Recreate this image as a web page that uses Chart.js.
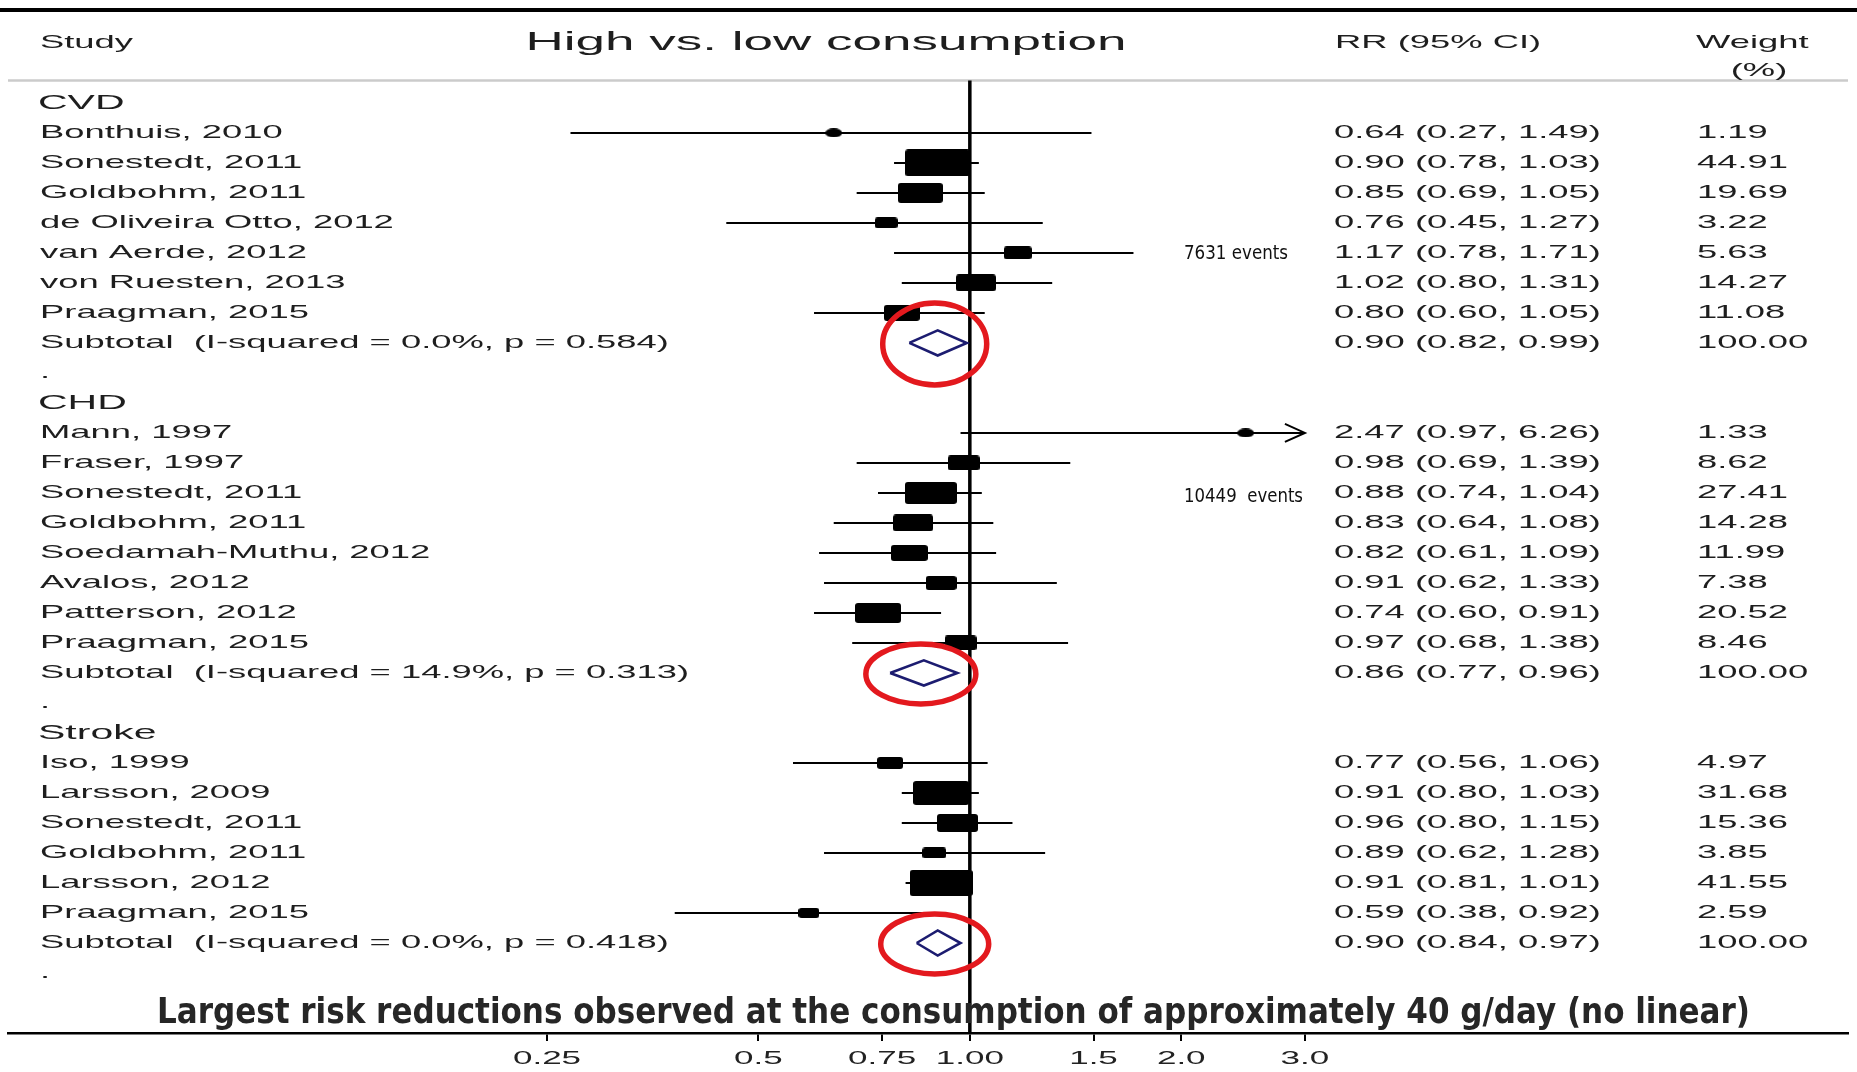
<!DOCTYPE html>
<html>
<head>
<meta charset="utf-8">
<title>High vs. low consumption</title>
<script src="https://cdn.jsdelivr.net/npm/chart.js@4.4.1/dist/chart.umd.min.js"></script>
<style>
  html, body { margin: 0; padding: 0; background: #fff; }
  #wrap { width: 1857px; height: 1072px; }
</style>
</head>
<body>
<div id="wrap"><canvas id="forest" width="1857" height="1072"></canvas></div>
<script>
"use strict";

// RR, 95% CI and weight (%) per study
const cvdStudies = ["Bonthuis, 2010", "Sonestedt, 2011", "Goldbohm, 2011", "de Oliveira Otto, 2012", "van Aerde, 2012", "von Ruesten, 2013", "Praagman, 2015"];
const cvdRR = [0.64, 0.90, 0.85, 0.76, 1.17, 1.02, 0.80];
const cvdLow = [0.27, 0.78, 0.69, 0.45, 0.78, 0.80, 0.60];
const cvdHigh = [1.49, 1.03, 1.05, 1.27, 1.71, 1.31, 1.05];
const cvdWeight = [1.19, 44.91, 19.69, 3.22, 5.63, 14.27, 11.08];

const chdStudies = ["Mann, 1997", "Fraser, 1997", "Sonestedt, 2011", "Goldbohm, 2011", "Soedamah-Muthu, 2012", "Avalos, 2012", "Patterson, 2012", "Praagman, 2015"];
const chdRR = [2.47, 0.98, 0.88, 0.83, 0.82, 0.91, 0.74, 0.97];
const chdLow = [0.97, 0.69, 0.74, 0.64, 0.61, 0.62, 0.60, 0.68];
const chdHigh = [6.26, 1.39, 1.04, 1.08, 1.09, 1.33, 0.91, 1.38];
const chdWeight = [1.33, 8.62, 27.41, 14.28, 11.99, 7.38, 20.52, 8.46];

const strokeStudies = ["Iso, 1999", "Larsson, 2009", "Sonestedt, 2011", "Goldbohm, 2011", "Larsson, 2012", "Praagman, 2015"];
const strokeRR = [0.77, 0.91, 0.96, 0.89, 0.91, 0.59];
const strokeLow = [0.56, 0.80, 0.80, 0.62, 0.81, 0.38];
const strokeHigh = [1.06, 1.03, 1.15, 1.28, 1.01, 0.92];
const strokeWeight = [4.97, 31.68, 15.36, 3.85, 41.55, 2.59];

const outcomes = ["CVD", "CHD", "Stroke"];
const subtotalRR = [0.90, 0.86, 0.90];
const subtotalLow = [0.82, 0.77, 0.84];
const subtotalHigh = [0.99, 0.96, 0.97];
const subtotalI2 = ["0.0%", "14.9%", "0.0%"];
const subtotalP = ["0.584", "0.313", "0.418"];

const eventNotes = ["7631 events", "10449  events"];
const eventNoteGroup = [0, 1];
const eventNoteStudy = [4, 2];

const tickValues = [0.25, 0.5, 0.75, 1, 1.5, 2, 3];
const tickLabels = ["0.25", "0.5", "0.75", "1.00", "1.5", "2.0", "3.0"];
const caption = "Largest risk reductions observed at the consumption of approximately 40 g/day (no linear)";

const plotMax = tickValues[tickValues.length - 1];
const FONT = '"Liberation Sans", Arial, Helvetica, sans-serif';
const NARROW = '"Liberation Sans Narrow", "DejaVu Sans Condensed", "Open Sans", sans-serif';

// lay the rows out: header, studies, subtotal, blank
const groupData = [
    { studies: cvdStudies, rr: cvdRR, low: cvdLow, high: cvdHigh, weight: cvdWeight },
    { studies: chdStudies, rr: chdRR, low: chdLow, high: chdHigh, weight: chdWeight },
    { studies: strokeStudies, rr: strokeRR, low: strokeLow, high: strokeHigh, weight: strokeWeight }
];
const rows = [];
let row = 0;
groupData.forEach(function (g, gi) {
    rows.push({ kind: "group", text: outcomes[gi], y: row++ });
    g.studies.forEach(function (name, si) {
        rows.push({ kind: "study", text: name, rr: g.rr[si], low: g.low[si], high: g.high[si], weight: g.weight[si], y: row++, group: gi, index: si });
    });
    rows.push({ kind: "subtotal", text: "Subtotal  (I-squared = " + subtotalI2[gi] + ", p = " + subtotalP[gi] + ")",
        rr: subtotalRR[gi], low: subtotalLow[gi], high: subtotalHigh[gi], weight: 100, y: row++, group: gi });
    rows.push({ kind: "gap", text: ".", y: row++ });
});
const studyRows = rows.filter(r => r.kind === "study");
const subRows = rows.filter(r => r.kind === "subtotal");

const ciPoints = [];
studyRows.forEach(function (r) {
    ciPoints.push({ x: r.low, y: r.y }, { x: Math.min(r.high, plotMax), y: r.y }, { x: null, y: null });
});
const diamondPoints = [];
subRows.forEach(function (r) {
    diamondPoints.push({ x: r.low, y: r.y }, { x: r.rr, y: r.y - 0.42 }, { x: r.high, y: r.y },
        { x: r.rr, y: r.y + 0.42 }, { x: r.low, y: r.y }, { x: null, y: null });
});

// weight boxes (the source graph is stretched sideways, so boxes are wide)
function makeBox(weight) {
    let c = document.createElement("canvas");
    let g = c.getContext("2d");
    let s = Math.sqrt(weight);
    let w = Math.round(7 + 8.66 * s), h = Math.round(4.8 + 3.35 * s);
    if (weight < 2) { w = 17; h = 9; }
    c.width = w; c.height = h;
    g.fillStyle = "#000";
    g.beginPath();
    if (weight < 2) {
        g.ellipse(w / 2, h / 2, w / 2, h / 2, 0, 0, Math.PI * 2);
    } else {
        let r = Math.min(3, h / 2);
        g.moveTo(r, 0);
        g.arcTo(w, 0, w, h, r);
        g.arcTo(w, h, 0, h, r);
        g.arcTo(0, h, 0, 0, r);
        g.arcTo(0, 0, w, 0, r);
        g.closePath();
    }
    g.fill();
    return c;
}
const boxImages = studyRows.map(r => makeBox(r.weight));

function wideText(ctx, str, x, y, font, align, sx, color) {
    ctx.save();
    ctx.font = font;
    ctx.fillStyle = color || "#1e1e1e";
    ctx.textAlign = align;
    ctx.textBaseline = "middle";
    ctx.translate(x, y);
    ctx.scale(sx, 1);
    ctx.fillText(str, 0, 0);
    ctx.restore();
}

function fitText(ctx, str, x, y, font, width, baseline, color) {
    ctx.save();
    ctx.font = font;
    let sx = width / ctx.measureText(str).width;
    ctx.fillStyle = color;
    ctx.textAlign = "left";
    ctx.textBaseline = baseline;
    ctx.translate(x, y);
    ctx.scale(sx, 1);
    ctx.fillText(str, 0, 0);
    ctx.restore();
}

const forestDecor = {
    id: "forestDecor",
    beforeDatasetsDraw(chart) {
        const ctx = chart.ctx, y = chart.scales.y, area = chart.chartArea;
        ctx.save();
        ctx.fillStyle = "#000";
        ctx.fillRect(0, 8, chart.width, 4);
        ctx.strokeStyle = "#cbcbcb";
        ctx.lineWidth = 2.5;
        ctx.beginPath();
        ctx.moveTo(area.left, y.getPixelForValue(-0.75));
        ctx.lineTo(area.right, y.getPixelForValue(-0.75));
        ctx.stroke();
        ctx.restore();
    },
    afterDatasetsDraw(chart) {
        const ctx = chart.ctx, x = chart.scales.x, y = chart.scales.y;
        ctx.save();
        // truncated CI arrows
        ctx.strokeStyle = "#000";
        ctx.lineWidth = 2;
        studyRows.forEach(function (r) {
            if (r.high > plotMax) {
                let px = x.getPixelForValue(plotMax), py = y.getPixelForValue(r.y);
                ctx.beginPath();
                ctx.moveTo(px - 20, py - 9);
                ctx.lineTo(px, py);
                ctx.lineTo(px - 20, py + 9);
                ctx.stroke();
            }
        });
        // red highlight rings around the pooled estimates
        const ringRx = [52, 55, 54];
        const ringRy = [41, 30, 30];
        ctx.strokeStyle = "#e3191e";
        ctx.lineWidth = 5.5;
        subRows.forEach(function (r, i) {
            ctx.beginPath();
            ctx.ellipse(x.getPixelForValue(r.rr) - 3, y.getPixelForValue(r.y) + 1, ringRx[i], ringRy[i], 0, 0, Math.PI * 2);
            ctx.stroke();
        });
        ctx.restore();
    },
    afterDraw(chart) {
        const ctx = chart.ctx, x = chart.scales.x, y = chart.scales.y;
        const body = "18.2px " + FONT;
        const head = y.getPixelForValue(-2);

        wideText(ctx, "Study", 40, head, body, "left", 2);
        wideText(ctx, "High vs. low consumption", 826, head, "26.5px " + FONT, "center", 2);
        wideText(ctx, "RR (95% CI)", 1335, head, body, "left", 2);
        wideText(ctx, "Weight", 1696, head, body, "left", 2);
        wideText(ctx, "(%)", 1759, y.getPixelForValue(-1.05), body, "center", 2);

        rows.forEach(function (r) {
            let py = y.getPixelForValue(r.y);
            if (r.kind === "group") {
                wideText(ctx, r.text, 38, py, "20.5px " + FONT, "left", 2);
            } else if (r.kind === "gap") {
                wideText(ctx, r.text, 40, py, body, "left", 2);
            } else {
                wideText(ctx, r.text, 40, py, body, "left", 2);
                let ci = r.rr.toFixed(2) + " (" + r.low.toFixed(2) + ", " + r.high.toFixed(2) + ")";
                wideText(ctx, ci, 1334, py, body, "left", 2);
                wideText(ctx, r.weight.toFixed(2), 1697, py, body, "left", 2);
            }
        });

        const noteWidth = [104, 119];
        eventNotes.forEach(function (txt, i) {
            let r = studyRows.find(s => s.group === eventNoteGroup[i] && s.index === eventNoteStudy[i]);
            fitText(ctx, txt, 1184, y.getPixelForValue(r.y) + 1 + i * 3, "19px " + NARROW, noteWidth[i], "middle", "#111");
        });

        x.ticks.forEach(function (t, i) {
            wideText(ctx, tickLabels[i], x.getPixelForValue(t.value), 1059, "17.5px " + FONT, "center", 2, "#222");
        });

        fitText(ctx, caption, 157, 1023, "bold 36px " + NARROW, 1593, "alphabetic", "#262626");
    }
};

const chart = new Chart(document.getElementById("forest"), {
    type: "scatter",
    data: {
        datasets: [
            {
                label: "RR",
                data: studyRows.map(r => ({ x: r.rr, y: r.y })),
                pointStyle: boxImages,
                pointRadius: 4
            },
            {
                label: "Subtotal",
                data: diamondPoints,
                showLine: true,
                borderColor: "#1c1c70",
                borderWidth: 2.6,
                borderJoinStyle: "miter",
                pointRadius: 0
            },
            {
                label: "95% CI",
                data: ciPoints,
                showLine: true,
                borderColor: "#000",
                borderWidth: 2,
                pointRadius: 0
            },
            {
                label: "No effect",
                data: [{ x: 1, y: -0.75 }, { x: 1, y: 31 }],
                showLine: true,
                borderColor: "#000",
                borderWidth: 3.5,
                pointRadius: 0
            }
        ]
    },
    options: {
        responsive: false,
        devicePixelRatio: 1,
        animation: false,
        events: [],
        layout: { autoPadding: false, padding: { left: 8, right: 9, top: 0, bottom: 0 } },
        plugins: { legend: { display: false }, tooltip: { enabled: false } },
        scales: {
            x: {
                type: "logarithmic",
                min: 0.0427,
                max: 17.8,
                bounds: "data",
                afterBuildTicks: function (scale) {
                    scale.ticks = tickValues.map(v => ({ value: v }));
                },
                afterFit: function (scale) {
                    scale.height = 39;
                },
                border: { display: true, color: "#000", width: 2.5 },
                grid: { display: true, drawOnChartArea: false, drawTicks: true, tickLength: 8, color: "#000", lineWidth: 2 },
                ticks: { display: false, callback: (v, i) => tickLabels[i] }
            },
            y: {
                type: "linear",
                reverse: true,
                min: -3.43,
                max: 31,
                display: false
            }
        }
    },
    plugins: [forestDecor]
});
</script>
</body>
</html>
